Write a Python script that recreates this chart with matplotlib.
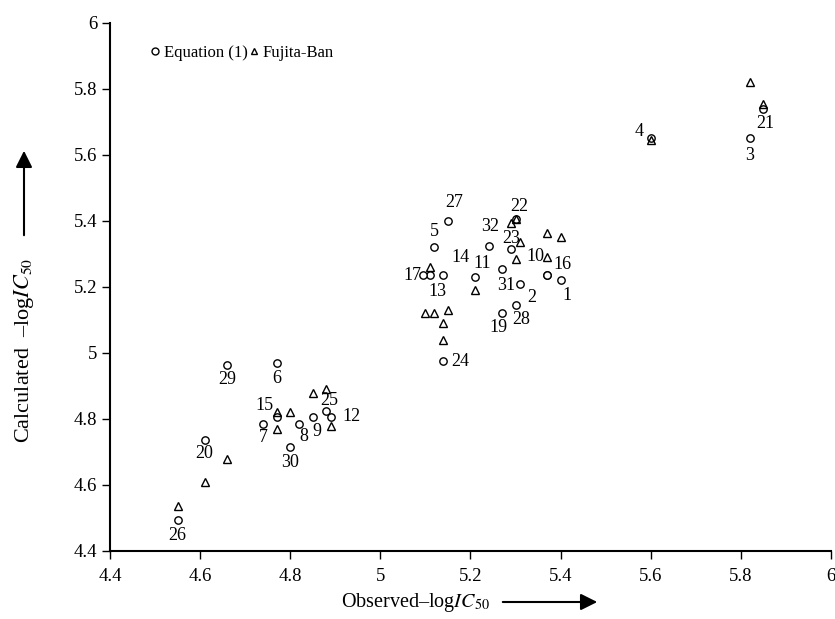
"""
Observed vs calculated -logIC50 scatter (Equation (1) and Fujita-Ban)
"""
import matplotlib
matplotlib.use('Agg')
import matplotlib.pyplot as plt
from matplotlib.lines import Line2D

# Equation (1): compound number, observed and calculated -logIC50
eq_ids = [1, 2, 3, 4, 5, 6, 7, 8, 9, 10, 11, 12, 13, 14, 15, 16,
          17, 19, 20, 21, 22, 23, 24, 25, 26, 27, 28, 29, 30, 31, 32]
eq_obs = [5.40, 5.31, 5.82, 5.60, 5.12, 4.77, 4.74, 4.82, 4.85, 5.37, 5.21, 4.89, 5.11, 5.14, 4.77, 5.37,
          5.095, 5.27, 4.61, 5.85, 5.30, 5.29, 5.14, 4.88, 4.55, 5.15, 5.30, 4.66, 4.80, 5.27, 5.24]
eq_calc = [5.22, 5.21, 5.65, 5.65, 5.32, 4.97, 4.785, 4.785, 4.805, 5.235, 5.23, 4.805, 5.235, 5.235, 4.805, 5.235,
           5.235, 5.12, 4.735, 5.74, 5.405, 5.315, 4.975, 4.825, 4.495, 5.40, 5.145, 4.965, 4.715, 5.255, 5.325]

# Fujita-Ban points
fb_obs = [4.55, 4.61, 4.66, 4.77, 4.80, 4.77, 4.85, 4.88, 4.89, 5.10, 5.12, 5.15, 5.14,
          5.14, 5.11, 5.21, 5.29, 5.30, 5.31, 5.30, 5.37, 5.40, 5.37, 5.60, 5.82, 5.85]
fb_calc = [4.535, 4.61, 4.68, 4.82, 4.82, 4.77, 4.88, 4.89, 4.78, 5.12, 5.12, 5.13, 5.09,
           5.04, 5.26, 5.19, 5.395, 5.405, 5.335, 5.285, 5.365, 5.35, 5.29, 5.645, 5.82, 5.755]

x_ticks = [4.4, 4.6, 4.8, 5.0, 5.2, 5.4, 5.6, 5.8, 6.0]
x_labels = ['4.4', '4.6', '4.8', '5', '5.2', '5.4', '5.6', '5.8', '6']
y_ticks = [4.4, 4.6, 4.8, 5.0, 5.2, 5.4, 5.6, 5.8, 6.0]
y_labels = ['4.4', '4.6', '4.8', '5', '5.2', '5.4', '5.6', '5.8', '6']

# label placement (pixels, relative to the circle)
label_offsets = {
    1: (6, -15), 2: (12, -14), 3: (0, -17), 4: (-12, 7), 5: (0, 16), 6: (0, -16),
    7: (0, -14), 8: (5, -13), 9: (4, -14), 10: (-12, 19), 11: (7, 14), 12: (21, 1),
    13: (8, -16), 14: (17, 18), 15: (-12, 12), 16: (15, 11), 17: (-11, 0), 19: (-4, -14),
    20: (0, -13), 21: (2, -15), 22: (4, 13), 23: (0, 11), 24: (17, 0), 25: (3, 10),
    26: (0, -16), 27: (6, 18), 28: (6, -14), 29: (0, -15), 30: (0, -15), 31: (4, -17),
    32: (2, 19),
}

plt.rcParams['font.family'] = ['Liberation Serif', 'DejaVu Serif']
plt.rcParams['mathtext.fontset'] = 'stix'

fig = plt.figure(figsize=(8.35, 6.19), dpi=100)
ax = fig.add_axes([0.1317, 0.1099, 0.8635, 0.8530])

ax.plot(eq_obs, eq_calc, linestyle='none', marker='o', markersize=5.3,
        markerfacecolor='white', markeredgecolor='black', markeredgewidth=1)
ax.plot(fb_obs, fb_calc, linestyle='none', marker='^', markersize=6,
        markerfacecolor='none', markeredgecolor='black', markeredgewidth=1)

for cid, xo, yc in zip(eq_ids, eq_obs, eq_calc):
    dx, dy = label_offsets[cid]
    ax.annotate(str(cid), (xo, yc), xytext=(dx, dy), textcoords='offset pixels',
                ha='center', va='center', fontsize=13)

ax.set_xlim(4.4, 6.0)
ax.set_ylim(4.4, 6.0)
ax.set_xticks(x_ticks)
ax.set_xticklabels(x_labels, fontsize=13.5)
ax.set_yticks(y_ticks)
ax.set_yticklabels(y_labels, fontsize=13.5)
ax.tick_params(direction='out', length=6, width=1, colors='black')
ax.tick_params(axis='x', pad=6)
ax.tick_params(axis='y', pad=3)
for side in ['top', 'right']:
    ax.spines[side].set_visible(False)
for side in ['left', 'bottom']:
    ax.spines[side].set_linewidth(1.5)

handles = [
    Line2D([], [], linestyle='none', marker='o', markersize=5,
           markerfacecolor='white', markeredgecolor='black'),
    Line2D([], [], linestyle='none', marker='^', markersize=5,
           markerfacecolor='none', markeredgecolor='black'),
]
ax.legend(handles, ['Equation (1)', 'Fujita-Ban'], loc='center left',
          bbox_to_anchor=(0.055, 0.943), ncol=2, frameon=False, fontsize=12,
          handlelength=0.6, handletextpad=0.25, columnspacing=0.05, borderpad=0,
          borderaxespad=0)

# axis titles with arrows
fig.text(415 / 835, 1 - 602 / 619, r'Observed–log$\it{IC}_{50}$',
         ha='center', va='center', fontsize=14.5)
ax.annotate('', xy=(600, 619 - 602), xytext=(500, 619 - 602), xycoords='figure pixels',
            textcoords='figure pixels',
            arrowprops=dict(arrowstyle='-|>', lw=1.5, color='black', mutation_scale=25))
fig.text(24 / 835, 1 - 350 / 619, r'Calculated  –log$\it{IC}_{50}$',
         ha='center', va='center', rotation=90, fontsize=16)
ax.annotate('', xy=(24, 619 - 148), xytext=(24, 619 - 238), xycoords='figure pixels',
            textcoords='figure pixels',
            arrowprops=dict(arrowstyle='-|>', lw=1.5, color='black', mutation_scale=25))

plt.savefig('out.png', dpi=100)
plt.close()
